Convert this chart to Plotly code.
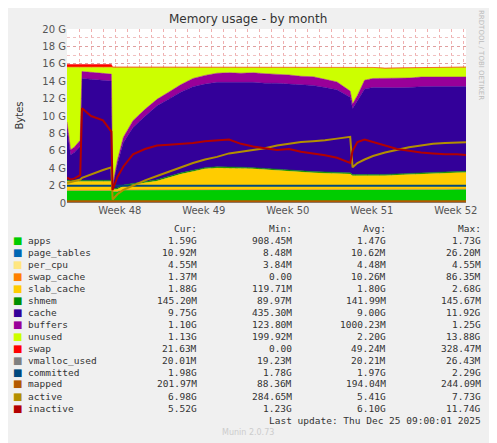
import plotly.graph_objects as go

# sample times, days since start of the month window
days = [0, 0.3, 0.6, 1.1, 1.25, 2, 3, 3.7, 3.8, 4.2, 4.7, 5.5, 6.5, 7.5, 8.5, 9.5, 10.5, 11.5,
        12.5, 13.5, 14.5, 15.5, 16.5, 17.5, 18.5, 19.5, 20.5, 21.5, 22.5, 23.6, 23.8, 24.2,
        24.8, 25.5, 26.5, 27.5, 28.5, 29.5, 30.5, 31.5, 32.5, 33.25]

# values in GB
apps = [1.45, 1.45, 1.45, 1.45, 1.45, 1.45, 1.45, 1.45, 1.35, 1.35, 1.5, 1.5, 1.5, 1.5, 1.5, 1.5,
        1.5, 1.5, 1.5, 1.5, 1.5, 1.5, 1.5, 1.5, 1.5, 1.5, 1.5, 1.5, 1.5, 1.5, 1.5, 1.5, 1.5, 1.5,
        1.52, 1.53, 1.55, 1.56, 1.57, 1.58, 1.59, 1.59]
page_tables = [0.011] * 42
per_cpu = [0.0045] * 42
swap_cache = [0.01] * 42
slab_cache = [1.0, 1.0, 1.0, 1.0, 1.0, 1.0, 1.0, 1.0, 0.15, 0.2, 0.4, 0.6, 0.8, 1.0, 1.4, 1.8,
              2.1, 2.4, 2.5, 2.5, 2.45, 2.4, 2.3, 2.2, 2.1, 2.0, 1.95, 1.9, 1.85, 1.8, 1.6, 1.6,
              1.55, 1.6, 1.6, 1.65, 1.7, 1.75, 1.8, 1.85, 1.87, 1.88]
shmem = [0.14] * 42
cache = [5.9, 2.9, 3.2, 3.9, 11.7, 11.6, 11.5, 11.4, 0.2, 2.8, 4.9, 6.4, 7.5, 8.5, 8.9, 9.3,
         9.6, 9.6, 9.7, 9.7, 9.7, 9.8, 9.8, 9.9, 9.9, 9.9, 9.9, 9.7, 9.5, 8.7, 7.6, 8.5, 9.9,
         10.0, 9.95, 9.9, 9.85, 9.9, 9.85, 9.8, 9.8, 9.75]
buffers = [0.8, 0.6, 0.6, 0.7, 0.8, 0.8, 0.8, 0.8, 0.15, 0.4, 0.6, 0.8, 0.8, 0.75, 0.8, 0.85,
           0.95, 1.0, 1.05, 1.1, 1.1, 1.1, 1.1, 1.05, 1.05, 1.0, 1.0, 0.95, 0.9, 0.7, 0.5, 0.6,
           1.0, 1.05, 1.1, 1.1, 1.1, 1.1, 1.1, 1.1, 1.1, 1.1]
unused = [6.3, 9.5, 9.2, 8.4, 0.5, 0.6, 0.7, 0.8, 13.6, 10.7, 8.0, 6.1, 4.8, 3.65, 2.8, 1.95,
          1.25, 0.9, 0.65, 0.6, 0.7, 0.6, 0.7, 0.75, 0.85, 1.0, 1.1, 1.35, 1.7, 2.7, 4.2, 3.2,
          1.5, 1.25, 1.15, 1.15, 1.15, 1.1, 1.1, 1.1, 1.1, 1.13]
swap = [0.3] * 8 + [0.02] * 34
vmalloc_used = [0.02] * 42
committed = [1.98] * 42
mapped = [0.2] * 42
active = [2.3, 2.4, 2.5, 2.7, 2.9, 3.3, 3.8, 4.1, 0.4, 1.0, 1.5, 2.0, 2.6, 3.1, 3.6, 4.1, 4.6,
          5.0, 5.3, 5.7, 5.9, 6.1, 6.3, 6.6, 6.8, 7.0, 7.1, 7.2, 7.4, 7.6, 4.1, 4.6, 5.0, 5.4,
          5.8, 6.1, 6.4, 6.6, 6.8, 6.9, 6.95, 6.98]
inactive = [2.9, 2.7, 2.8, 3.2, 10.9, 10.0, 9.5, 8.2, 1.5, 3.0, 4.2, 5.6, 6.2, 6.6, 6.7, 6.8,
            6.9, 7.1, 7.2, 7.3, 6.8, 6.5, 6.3, 6.1, 6.2, 5.9, 5.7, 5.5, 5.2, 4.6, 6.0, 7.0, 7.3,
            7.0, 6.6, 6.2, 6.0, 5.8, 5.7, 5.6, 5.6, 5.52]

week_pos = [4.4, 11.4, 18.4, 25.4, 32.4]
week_labels = ["Week 48", "Week 49", "Week 50", "Week 51", "Week 52"]

stats = [
    ("apps", "#00CC00", "1.59G", "908.45M", "1.47G", "1.73G"),
    ("page_tables", "#0066B3", "10.92M", "8.48M", "10.62M", "26.20M"),
    ("per_cpu", "#FFE680", "4.55M", "3.84M", "4.48M", "4.55M"),
    ("swap_cache", "#FF8000", "1.37M", "0.00", "10.26M", "86.35M"),
    ("slab_cache", "#FFCC00", "1.88G", "119.71M", "1.80G", "2.68G"),
    ("shmem", "#008F00", "145.20M", "89.97M", "141.99M", "145.67M"),
    ("cache", "#330099", "9.75G", "435.30M", "9.00G", "11.92G"),
    ("buffers", "#990099", "1.10G", "123.80M", "1000.23M", "1.25G"),
    ("unused", "#CCFF00", "1.13G", "199.92M", "2.20G", "13.88G"),
    ("swap", "#FF0000", "21.63M", "0.00", "49.24M", "328.47M"),
    ("vmalloc_used", "#808080", "20.01M", "19.23M", "20.21M", "26.43M"),
    ("committed", "#00487D", "1.98G", "1.78G", "1.97G", "2.29G"),
    ("mapped", "#B35A00", "201.97M", "88.36M", "194.04M", "244.09M"),
    ("active", "#B38F00", "6.98G", "284.65M", "5.41G", "7.73G"),
    ("inactive", "#B30000", "5.52G", "1.23G", "6.10G", "11.74G"),
]
series = dict(apps=apps, page_tables=page_tables, per_cpu=per_cpu, swap_cache=swap_cache,
              slab_cache=slab_cache, shmem=shmem, cache=cache, buffers=buffers, unused=unused,
              swap=swap, vmalloc_used=vmalloc_used, committed=committed, mapped=mapped,
              active=active, inactive=inactive)
stacked = ["apps", "page_tables", "per_cpu", "swap_cache", "slab_cache", "shmem", "cache",
           "buffers", "unused", "swap"]

fig = go.Figure()
for name, color, *_ in stats:
    if name in stacked:
        fig.add_trace(go.Scatter(x=days, y=series[name], stackgroup="mem", mode="lines",
                                 line=dict(width=0.5, color=color), fillcolor=color,
                                 name=name))
for name, color, *_ in stats:
    if name not in stacked:
        fig.add_trace(go.Scatter(x=days, y=series[name], mode="lines",
                                 line=dict(width=2, color=color), name=name))

# page body has an 8px margin, so work in page pixels and shift
O = 8
FW, FH = 497 - O, 443 - O
L, T, W, H = 67 - O, 29 - O, 399, 174
def px(x, y):
    return (x - O - L) / W, (T + H - (y - O)) / H

ann = []
mono = dict(family="DejaVu Sans Mono", size=9.5, color="#333")
cols = [199, 294, 388, 483]
for xr, h in zip(cols, ["Cur:", "Min:", "Avg:", "Max:"]):
    a, b = px(xr, 228)
    ann.append(dict(x=a, y=b, text=h, xanchor="right", font=mono))
for r, (name, color, cur, mn, av, mx) in enumerate(stats):
    y = 240 + r * 12
    a, b = px(17, y)
    ann.append(dict(x=a, y=b, text="■", xanchor="center", font=dict(size=10, color=color)))
    a, b = px(26, y)
    ann.append(dict(x=a, y=b, text=name, xanchor="left", font=mono))
    for xr, v in zip(cols, [cur, mn, av, mx]):
        a, b = px(xr, y)
        ann.append(dict(x=a, y=b, text=v, xanchor="right", font=mono))
a, b = px(483, 420)
ann.append(dict(x=a, y=b, text="Last update: Thu Dec 25 09:00:01 2025", xanchor="right", font=mono))
a, b = px(248, 432)
ann.append(dict(x=a, y=b, text="Munin 2.0.73", xanchor="center",
                font=dict(family="DejaVu Sans", size=8, color="#ccc")))
a, b = px(248, 19)
ann.append(dict(x=a, y=b, text="Memory usage - by month", xanchor="center",
                font=dict(family="DejaVu Sans", size=12, color="#333")))
a, b = px(11, 116)
ann.append(dict(x=a, y=b, text="Bytes", textangle=-90, font=dict(family="DejaVu Sans", size=10, color="#333")))
a, b = px(487, 55)
ann.append(dict(x=a, y=b, text="RRDTOOL / TOBI OETIKER", textangle=90, yanchor="middle",
                font=dict(family="DejaVu Sans", size=7, color="#bbb")))
for d in ann:
    d.update(xref="paper", yref="paper", showarrow=False, yanchor=d.get("yanchor", "middle"))

fig.update_layout(
    width=FW, height=FH, margin=dict(l=L, r=FW - L - W, t=T, b=FH - T - H),
    paper_bgcolor="#F0F0F0", plot_bgcolor="white", showlegend=False,
    font=dict(family="DejaVu Sans", size=10, color="#555"),
    annotations=ann,
    xaxis=dict(range=[0, 33.25], tickvals=week_pos, ticktext=week_labels, showgrid=False,
               ticks="", zeroline=False, tickfont=dict(size=10, color="#555"),
               minor=dict(dtick=1, tick0=0, showgrid=True, gridcolor="#f0b0b0", griddash="dot",
                          gridwidth=0.5)),
    yaxis=dict(range=[0, 20], tickvals=[0, 2, 4, 6, 8, 10, 12, 14, 16, 18, 20],
               ticktext=["0", "2 G", "4 G", "6 G", "8 G", "10 G", "12 G", "14 G", "16 G", "18 G", "20 G"],
               showgrid=True, gridcolor="#e0a0a0", griddash="dot", gridwidth=0.5, zeroline=False,
               ticks="", tickfont=dict(size=10, color="#555"),
               minor=dict(dtick=1, showgrid=True, gridcolor="#f0c0c0", griddash="dot", gridwidth=0.5)),
)
fig.write_html("out.html")
